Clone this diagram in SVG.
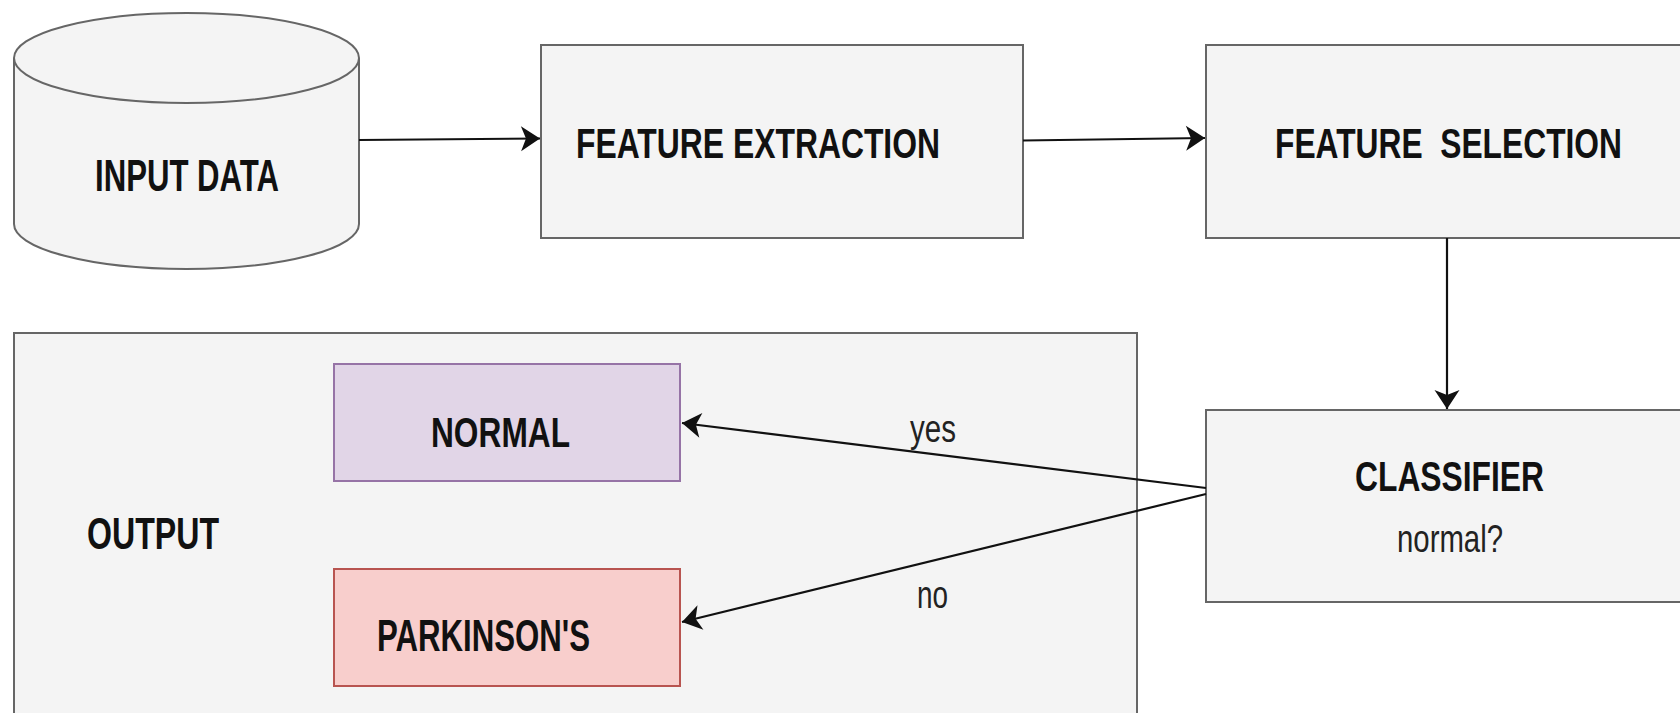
<svg xmlns="http://www.w3.org/2000/svg" width="1680" height="713" viewBox="0 0 1680 713">
  <style>
    .box { fill: #f4f4f4; stroke: #666666; stroke-width: 2; }
    .normal { fill: #e1d5e7; stroke: #9673a6; stroke-width: 2; }
    .park { fill: #f8cecc; stroke: #b85450; stroke-width: 2; }
    .title { font-family: "Liberation Sans", Arial, sans-serif; font-weight: bold; fill: #111111; }
    .label { font-family: "Liberation Sans", Arial, sans-serif; fill: #222222; font-size: 38px; }
    .edge { fill: none; stroke: #111111; stroke-width: 2.2; }
  </style>
  <defs>
    <marker id="arrow" markerUnits="userSpaceOnUse" markerWidth="30" markerHeight="30" viewBox="-22 -15 25 30" refX="0" refY="0" orient="auto">
      <path d="M0,0 L-19,-12.5 L-14,0 L-19,12.5 Z" fill="#111111"/>
    </marker>
  </defs>

  <rect width="1680" height="713" fill="#ffffff"/>

  <!-- data source cylinder -->
  <g id="input-data">
    <path class="box" d="M14,58 A172.5,45 0 0 1 359,58 L359,224 A172.5,45 0 0 1 14,224 Z"/>
    <path class="box" fill="none" d="M14,58 A172.5,45 0 0 0 359,58"/>
    <text class="title" x="95" y="191" font-size="44" textLength="184" lengthAdjust="spacingAndGlyphs">INPUT DATA</text>
  </g>

  <g id="feature-extraction">
    <rect class="box" x="541" y="45" width="482" height="193"/>
    <text class="title" x="576" y="158" font-size="43" textLength="364" lengthAdjust="spacingAndGlyphs">FEATURE EXTRACTION</text>
  </g>

  <g id="feature-selection">
    <rect class="box" x="1206" y="45" width="484" height="193"/>
    <text class="title" x="1275" y="158" font-size="43" textLength="347" lengthAdjust="spacingAndGlyphs">FEATURE&#160; SELECTION</text>
  </g>

  <g id="output">
    <rect class="box" x="14" y="333" width="1123" height="400"/>
    <text class="title" x="87" y="549" font-size="44" textLength="132" lengthAdjust="spacingAndGlyphs">OUTPUT</text>
  </g>

  <g id="normal">
    <rect class="normal" x="334" y="364" width="346" height="117"/>
    <text class="title" x="431" y="447" font-size="43" textLength="139" lengthAdjust="spacingAndGlyphs">NORMAL</text>
  </g>

  <g id="parkinsons">
    <rect class="park" x="334" y="569" width="346" height="117"/>
    <text class="title" x="377" y="651" font-size="44" textLength="213" lengthAdjust="spacingAndGlyphs">PARKINSON'S</text>
  </g>

  <g id="classifier">
    <rect class="box" x="1206" y="410" width="484" height="192"/>
    <text class="title" x="1355" y="491" font-size="42" textLength="189" lengthAdjust="spacingAndGlyphs">CLASSIFIER</text>
    <text class="label" x="1397" y="552" textLength="106" lengthAdjust="spacingAndGlyphs">normal?</text>
  </g>

  <!-- connectors -->
  <g id="connectors">
    <line class="edge" x1="359" y1="140" x2="540" y2="138.5" marker-end="url(#arrow)"/>
    <line class="edge" x1="1023" y1="140.5" x2="1205" y2="138" marker-end="url(#arrow)"/>
    <line class="edge" x1="1447" y1="238" x2="1447" y2="409" marker-end="url(#arrow)"/>
    <line class="edge" x1="1206" y1="488" x2="682" y2="423" marker-end="url(#arrow)"/>
    <line class="edge" x1="1206" y1="494" x2="682" y2="622" marker-end="url(#arrow)"/>
    <text class="label" x="910" y="442" textLength="46" lengthAdjust="spacingAndGlyphs">yes</text>
    <text class="label" x="917" y="608" textLength="31" lengthAdjust="spacingAndGlyphs">no</text>
  </g>
</svg>
